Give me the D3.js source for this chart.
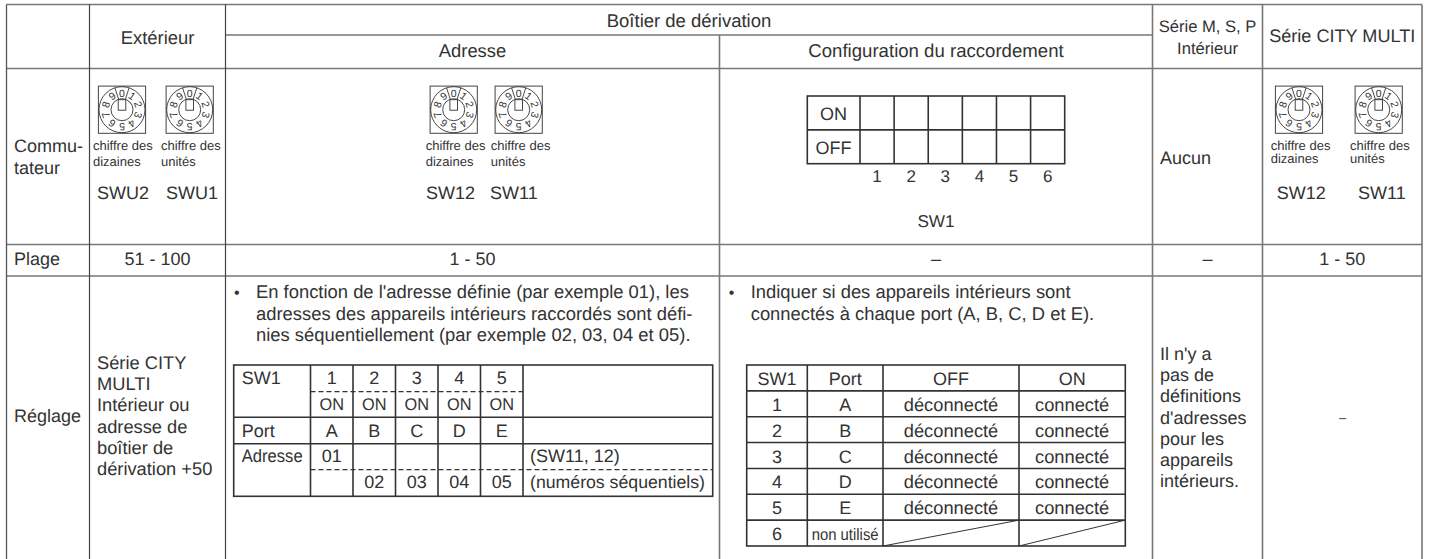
<!DOCTYPE html>
<html>
<head>
<meta charset="utf-8">
<script src="https://cdn.jsdelivr.net/npm/d3@7"></script>
<style>
html, body { margin: 0; padding: 0; background: #fff; }
svg { display: block; opacity: 0.995; }
text { font-family: "Liberation Sans", Arial, sans-serif; fill: #333; text-rendering: geometricPrecision; }
</style>
</head>
<body>
<div id="chart"></div>
<script>
// table content
const headTop = ['Extérieur', 'Boîtier de dérivation', 'Série CITY MULTI'];
const headSub = ['Adresse', 'Configuration du raccordement'];
const headIndoor = ['Série M, S, P', 'Intérieur'];
const rowNames = ['Plage', 'Réglage'];
const commuLines = ['Commu-', 'tateur'];
const rangeValues = ['51 - 100', '1 - 50', '–', '–', '1 - 50'];
const outdoorLines = ['Série CITY', 'MULTI', 'Intérieur ou', 'adresse de', 'boîtier de', 'dérivation +50'];
const addrLines = ["En fonction de l'adresse définie (par exemple 01), les", 'adresses des appareils intérieurs raccordés sont défi-', 'nies séquentiellement (par exemple 02, 03, 04 et 05).'];
const portLines = ['Indiquer si des appareils intérieurs sont', 'connectés à chaque port (A, B, C, D et E).'];
const noneLines = ["Il n'y a", 'pas de', 'définitions', "d'adresses", 'pour les', 'appareils', 'intérieurs.'];

// rotary switches
const digits = ['0', '1', '2', '3', '4', '5', '6', '7', '8', '9'];
const switches = ['SWU2', 'SWU1', 'SW12a', 'SW11a', 'SW12b', 'SW11b'];
const switchNames = ['SWU2', 'SWU1', 'SW12', 'SW11', 'SW12', 'SW11'];
const switchUnits = [['chiffre des', 'dizaines'], ['chiffre des', 'unités'], ['chiffre des', 'dizaines'], ['chiffre des', 'unités'], ['chiffre des', 'dizaines'], ['chiffre des', 'unités']];

// dip switch
const dipStates = ['ON', 'OFF'];
const dipNumbers = ['1', '2', '3', '4', '5', '6'];

// inner address table
const addrPorts = ['1', '2', '3', '4', '5'];
const addrLetters = ['A', 'B', 'C', 'D', 'E'];
const addrOn = ['ON', 'ON', 'ON', 'ON', 'ON'];
const addrCodes = ['01', '', '', '', ''];
const addrSeq = ['', '02', '03', '04', '05'];

// inner port table
const portHead = ['SW1', 'Port', 'OFF', 'ON'];
const portNumbers = ['1', '2', '3', '4', '5', '6'];
const portLetters = ['A', 'B', 'C', 'D', 'E', 'non utilisé'];
const portOff = ['déconnecté', 'déconnecté', 'déconnecté', 'déconnecté', 'déconnecté', ''];
const portOn = ['connecté', 'connecté', 'connecté', 'connecté', 'connecté', ''];

const width = 1433, height = 559;
const gray = '#777', dark = '#333';

const svg = d3.select('#chart').append('svg').attr('width', width).attr('height', height);

// grid edges of the page table
const colX = d3.scaleOrdinal(['left', 'name', 'out', 'addr', 'cfg', 'ind', 'city'], [6.5, 89.5, 225.5, 719.5, 1152.5, 1262.5, 1422]);
const rowY = d3.scaleOrdinal(['top', 'mid', 'head', 'sw', 'range', 'bottom'], [4.5, 35, 68.5, 244.5, 276, 559]);

function line(x1, y1, x2, y2, color, w, dash) {
	svg.append('line').attr('x1', x1).attr('y1', y1).attr('x2', x2).attr('y2', y2)
		.attr('stroke', color).attr('stroke-width', w).attr('stroke-dasharray', dash || null);
}

function txt(x, y, s, size, anchor, len) {
	let t = svg.append('text').attr('x', x).attr('y', y).attr('font-size', size)
		.attr('text-anchor', anchor || 'start').text(s);
	if (len) t.attr('textLength', len).attr('lengthAdjust', 'spacingAndGlyphs');
	return t;
}

function mid(scale, a, b) { return (scale(a) + scale(b)) / 2; }

//outer grid
line(colX('left'), rowY('top'), colX('city'), rowY('top'), gray, 1.6);
line(colX('left'), rowY('head'), colX('city'), rowY('head'), gray, 1.6);
line(colX('left'), rowY('sw'), colX('city'), rowY('sw'), gray, 1.6);
line(colX('left'), rowY('range'), colX('city'), rowY('range'), gray, 1.6);
line(colX('out'), rowY('mid'), colX('cfg'), rowY('mid'), dark, 1.1);
line(colX('left'), rowY('top'), colX('left'), rowY('bottom'), '#555', 1.3);
line(colX('name'), rowY('top'), colX('name'), rowY('bottom'), '#444', 1.2);
line(colX('out'), rowY('top'), colX('out'), rowY('bottom'), '#444', 1.2);
line(colX('addr'), rowY('mid'), colX('addr'), rowY('bottom'), gray, 1.6);
line(colX('cfg'), rowY('top'), colX('cfg'), rowY('bottom'), gray, 1.6);
line(colX('ind'), rowY('top'), colX('ind'), rowY('bottom'), gray, 1.6);
line(colX('city'), rowY('top'), colX('city'), rowY('bottom'), gray, 1.6);

//header texts
txt(mid(colX, 'name', 'out'), 44, headTop[0], 18.4, 'middle');
txt(mid(colX, 'out', 'cfg'), 26.5, headTop[1], 18.5, 'middle');
txt(mid(colX, 'out', 'addr'), 57, headSub[0], 18.4, 'middle');
txt(mid(colX, 'addr', 'cfg'), 57, headSub[1], 18.6, 'middle');
txt(mid(colX, 'cfg', 'ind'), 31.5, headIndoor[0], 16.6, 'middle');
txt(mid(colX, 'cfg', 'ind'), 54, headIndoor[1], 16.6, 'middle');
txt(mid(colX, 'ind', 'city'), 41.5, headTop[2], 18.1, 'middle');

//row names
commuLines.forEach((s, i) => txt(14, 151.5 + i * 22.5, s, 18));
txt(14, 265, rowNames[0], 18);
txt(14, 422, rowNames[1], 18);

//range row
const rangeCols = [['name', 'out'], ['out', 'addr'], ['addr', 'cfg'], ['cfg', 'ind'], ['ind', 'city']];
rangeValues.forEach((s, i) => txt(mid(colX, rangeCols[i][0], rangeCols[i][1]), 265, s, 18, 'middle'));
txt(1342.5, 421.5, '–', 13, 'middle');
txt(1160, 163.5, 'Aucun', 18);

//rotary switches
const swX = d3.scaleOrdinal(switches, [122, 189.7, 453.7, 518.7, 1299, 1378.7]);
const swLabelX = d3.scaleOrdinal(switches, [93, 161, 425.7, 490.7, 1270.7, 1350]);
const swNameX = d3.scaleOrdinal(switches, [97, 166, 426, 490, 1276.7, 1358]);
const angle = d3.scaleLinear().domain([0, digits.length]).range([0, 360]);
const swCy = 109.7;

const sw = svg.selectAll('g.rotary').data(switches).join('g').attr('class', 'rotary')
	.attr('transform', d => `translate(${swX(d)},${swCy})`);
sw.append('rect').attr('x', -23.6).attr('y', -23.6).attr('width', 47.2).attr('height', 47.2)
	.attr('fill', 'none').attr('stroke', '#444').attr('stroke-width', 1);
sw.append('circle').attr('r', 23).attr('fill', 'none').attr('stroke', '#333').attr('stroke-width', 0.9);
sw.append('circle').attr('r', 11).attr('fill', 'none').attr('stroke', '#333').attr('stroke-width', 0.9);
sw.append('rect').attr('x', -3.8).attr('y', -10).attr('width', 7.6).attr('height', 10.5)
	.attr('fill', '#fff').attr('stroke', '#333').attr('stroke-width', 0.9);
[-18, 18].forEach(a => {
	sw.append('line').attr('y1', -10.8).attr('y2', -23).attr('transform', `rotate(${a})`)
		.attr('stroke', '#333').attr('stroke-width', 0.8);
});
sw.selectAll('text.digit').data(digits).join('text').attr('class', 'digit')
	.attr('font-size', 10.5).attr('text-anchor', 'middle')
	.attr('transform', (d, i) => `rotate(${angle(i)}) translate(0,-13.2)`)
	.text(d => d);

switches.forEach((k, i) => {
	let gap = i >= 4 ? 13 : 16;
	switchUnits[i].forEach((s, j) => txt(swLabelX(k), 150 + j * gap, s, 13));
	txt(swNameX(k), 199, switchNames[i], 18);
});

//dip switch
const dipX = d3.scaleBand().domain(dipNumbers).range([860, 1064.7]);
const dipY = d3.scaleBand().domain(dipStates).range([96, 163.7]);
svg.append('rect').attr('x', 807.3).attr('y', dipY.range()[0]).attr('width', dipX.range()[1] - 807.3)
	.attr('height', dipY.range()[1] - dipY.range()[0]).attr('fill', 'none').attr('stroke', dark).attr('stroke-width', 1.6);
line(807.3, dipY('OFF'), dipX.range()[1], dipY('OFF'), dark, 1.6);
dipNumbers.forEach(n => {
	line(dipX(n), dipY.range()[0], dipX(n), dipY.range()[1], dark, 1.6);
	txt(dipX(n) + dipX.bandwidth() / 2, 181.7, n, 17, 'middle');
});
dipStates.forEach(s => txt(833.6, dipY(s) + 23.7, s, 18, 'middle'));
txt(936, 227, 'SW1', 17.2, 'middle');

//outdoor setting text
outdoorLines.forEach((s, i) => txt(97, 369 + i * 21.2, s, 18.3));

//paragraphs
addrLines.forEach((s, i) => txt(256, 298.3 + i * 21.3, s, 18.4));
portLines.forEach((s, i) => txt(750.7, 298.3 + i * 21.8, s, 18.4));
txt(234, 298, '•', 16);
txt(728.7, 298, '•', 16);
noneLines.forEach((s, i) => txt(1160, 360 + i * 21.2, s, 18));

//address table
const aX = d3.scaleBand().domain(addrPorts).range([310.5, 523]);
const aY = d3.scaleOrdinal(['top', 'on', 'port', 'addr', 'seq', 'end'], [365, 391.7, 417.3, 443.7, 469.7, 496.3]);
svg.append('rect').attr('x', 233.7).attr('y', aY('top')).attr('width', 712.7 - 233.7)
	.attr('height', aY('end') - aY('top')).attr('fill', 'none').attr('stroke', dark).attr('stroke-width', 1.6);
line(233.7, aY('port'), 712.7, aY('port'), dark, 1.6);
line(233.7, aY('addr'), 712.7, aY('addr'), dark, 1.6);
addrPorts.forEach(p => line(aX(p), aY('top'), aX(p), aY('end'), dark, 1.6));
line(aX.range()[1], aY('top'), aX.range()[1], aY('end'), dark, 1.6);
line(aX.range()[0], aY('on'), aX.range()[1], aY('on'), dark, 1.3, '5 3');
line(aX.range()[0], aY('seq'), 712.7, aY('seq'), dark, 1.3, '5 3');
txt(241.7, 384, 'SW1', 18);
txt(241.7, 436.7, portHead[1], 18);
txt(241.7, 462.3, 'Adresse', 18, 'start', 61);
addrPorts.forEach((p, i) => {
	let cx = aX(p) + aX.bandwidth() / 2;
	txt(cx, 384, p, 18, 'middle');
	txt(cx, 410, addrOn[i], 17, 'middle', 24.5);
	txt(cx, 436.7, addrLetters[i], 18, 'middle');
	txt(cx, 462.3, addrCodes[i], 18, 'middle');
	txt(cx, 488.3, addrSeq[i], 18, 'middle');
});
txt(530, 462.3, '(SW11, 12)', 18);
txt(530, 488.3, '(numéros séquentiels)', 17.7);

//port table
const pX = d3.scaleOrdinal(['a', 'b', 'c', 'd', 'e'], [746.7, 807.3, 883, 1019, 1125.3]);
const pRows = ['head'].concat(portNumbers);
const pY = d3.scaleBand().domain(pRows).range([365, 546]);
svg.append('rect').attr('x', pX('a')).attr('y', 365).attr('width', pX('e') - pX('a')).attr('height', 181)
	.attr('fill', 'none').attr('stroke', dark).attr('stroke-width', 1.6);
['b', 'c', 'd'].forEach(k => line(pX(k), 365, pX(k), 546, dark, 1.6));
portNumbers.forEach(n => line(pX('a'), pY(n), pX('e'), pY(n), dark, 1.6));
const pCols = [['a', 'b'], ['b', 'c'], ['c', 'd'], ['d', 'e']];
const pMid = pCols.map(c => mid(pX, c[0], c[1]));
const rowBase = r => pY(r) + 20;
portHead.forEach((s, i) => txt(pMid[i], rowBase('head'), s, 18, 'middle'));
portNumbers.forEach((n, i) => {
	txt(pMid[0], rowBase(n), n, 18, 'middle');
	if (n == '6') txt(pMid[1], rowBase(n), portLetters[i], 16.5, 'middle', 67);
	else txt(pMid[1], rowBase(n), portLetters[i], 18, 'middle');
	txt(pMid[2], rowBase(n), portOff[i], 18.3, 'middle');
	txt(pMid[3], rowBase(n), portOn[i], 18.3, 'middle');
});
line(pX('c'), 546, pX('d'), pY('6'), dark, 1);
line(pX('d'), 546, pX('e'), pY('6'), dark, 1);
</script>
</body>
</html>
